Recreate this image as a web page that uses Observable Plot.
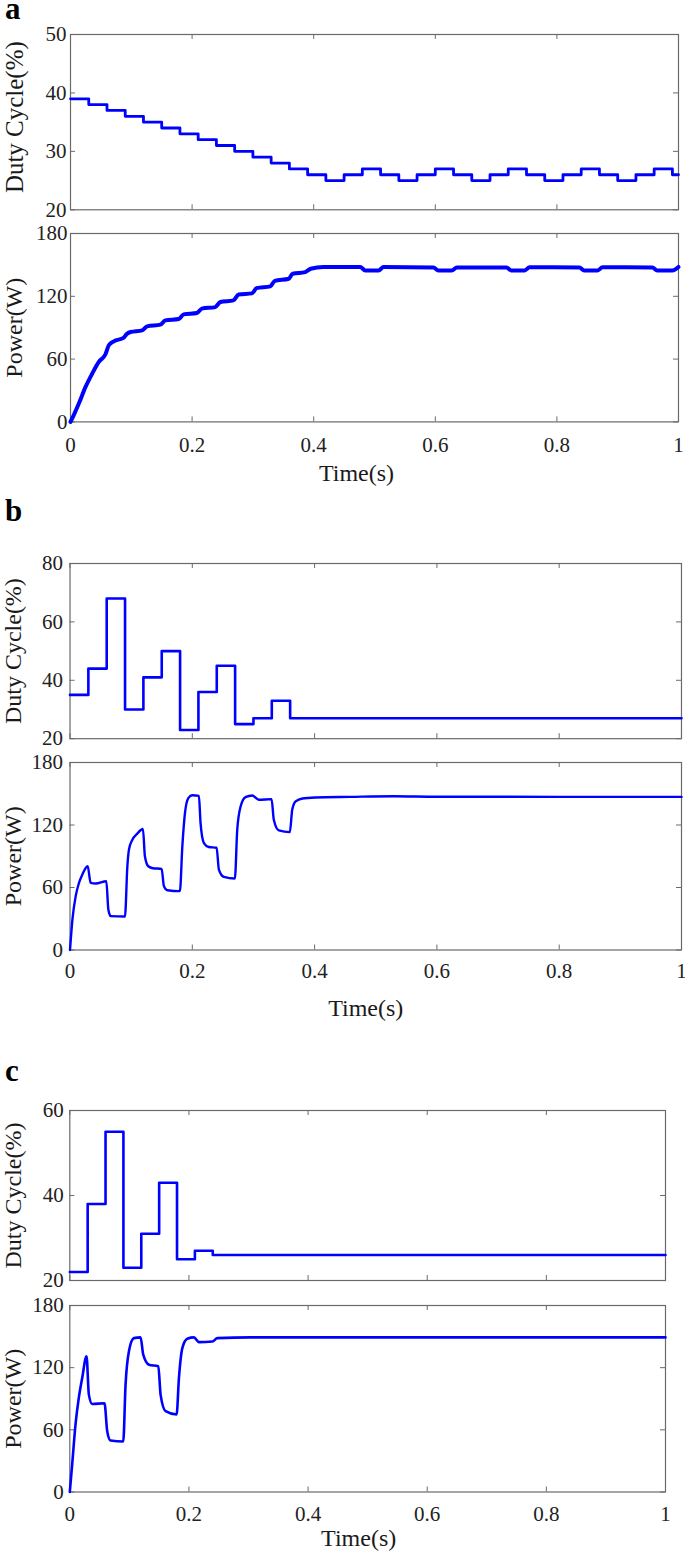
<!DOCTYPE html>
<html><head><meta charset="utf-8">
<script src="https://cdn.jsdelivr.net/npm/d3@7"></script>
<script src="https://cdn.jsdelivr.net/npm/@observablehq/plot@0.6"></script>
<style>
html,body{margin:0;padding:0;background:#fff;}
#root{position:relative;width:685px;height:1553px;overflow:hidden;background:#fff;}
#root svg{position:absolute;left:0;overflow:visible;}
</style></head><body><div id="root"></div>
<script>
// ---------- data ----------
const xTicks = [0, 0.2, 0.4, 0.6, 0.8, 1];
const powerTicks = [0, 60, 120, 180];

// Panel a: duty cycle steps (start times, values)
const dutyA_t = [0,0.03,0.06,0.09,0.12,0.15,0.18,0.21,0.24,0.27,0.30,0.33,0.36,0.39,0.42,0.45,0.48,0.51,0.54,0.57,0.60,0.63,0.66,0.69,0.72,0.75,0.78,0.81,0.84,0.87,0.90,0.93,0.96,0.99,1.0];
const dutyA_v = [39,38,37,36,35,34,33,32,31,30,29,28,27,26,25,26,27,26,25,26,27,26,25,26,27,26,25,26,27,26,25,26,27,26,26];
const dutyA_ticks = [20, 30, 40, 50];

// Panel a: power
const powerA_t = [0,0.005,0.0137,0.0247,0.0356,0.0466,0.0575,0.063,0.0712,0.0877,0.0925,0.0986,0.1178,0.126,0.148,0.156,0.178,0.186,0.208,0.216,0.238,0.2465,0.268,0.2766,0.2986,0.306,0.3287,0.336,0.3588,0.3655,0.386,0.395,0.416,0.4766,0.4848,0.5067,0.515,0.597,0.605,0.627,0.6355,0.717,0.725,0.747,0.755,0.837,0.845,0.867,0.875,0.957,0.965,0.99,1.0];
const powerA_v = [0,6,17.5,33.4,46,57.3,64.6,73.2,77,80.5,84,85.9,87.5,91.3,92.9,97,98.3,102.7,104,108.2,109.7,114.5,116.1,121.8,122.8,127.8,129.5,134.8,136.8,141.6,143.1,146.3,147.9,147.9,144.7,144.7,147.9,147.4,144.7,144.7,147.6,147.6,144.7,144.7,147.7,147.6,144.7,144.7,147.7,147.6,144.7,144.7,148];

// Panel b: duty cycle steps
const dutyB_t = [0,0.03,0.06,0.09,0.12,0.15,0.18,0.21,0.24,0.27,0.30,0.33,0.36,1.0];
const dutyB_v = [35,44,68,30,41,50,23,36,45,25,27,33,27,27];
const dutyB_ticks = [20, 40, 60, 80];

// Panel b: power
const powerB_t = [0,0.004,0.0093,0.0147,0.0202,0.0289,0.0338,0.042,0.0594,0.0627,0.0665,0.0899,0.0938,0.0964,0.102,0.110,0.1193,0.1225,0.128,0.1356,0.1498,0.1536,0.159,0.1797,0.1837,0.188,0.1935,0.2,0.2108,0.2135,0.219,0.227,0.2397,0.2435,0.2516,0.2696,0.2735,0.279,0.287,0.298,0.3088,0.3296,0.3333,0.3415,0.3595,0.3634,0.369,0.38,0.401,0.458,0.53,0.6,1.0];
const powerB_v = [0,29.4,51.7,64.4,72.4,80.4,64.4,63.8,66,38.9,32.5,32.2,80.4,96.4,105.9,111.7,116.1,90,80.4,78.5,77.9,61.3,57.4,56.5,99.5,131.4,145.8,148.6,148,121.8,102.7,98.9,98.2,77.2,70.2,68.6,115.5,137.8,146.7,148.3,144.2,144.8,125,114.8,113.2,134.6,142.6,145.5,146.4,147,147.6,147.1,147];

// Panel c: duty cycle steps
const dutyC_t = [0,0.03,0.06,0.09,0.12,0.15,0.18,0.21,0.24,1.0];
const dutyC_v = [22,38,55,23,31,43,25,27,26,26];
const dutyC_ticks = [20, 40, 60];

// Panel c: power
const powerC_t = [0,0.004,0.0096,0.0151,0.0208,0.0281,0.032,0.0376,0.0583,0.0628,0.0684,0.0897,0.0936,0.0992,0.1076,0.1188,0.1233,0.1328,0.1486,0.1524,0.1608,0.1793,0.1832,0.1889,0.1973,0.2084,0.2168,0.2393,0.2477,0.3037,1.0];
const powerC_v = [0,26.6,65.2,90.8,110,130.9,94,85,85.6,58.7,49.7,48.8,103.6,135.7,148.5,149.2,132.5,122.9,121.3,94,78,74.8,110,138.9,147.9,149.2,144.7,145.2,148.5,149.2,149.2];

const panelLetters = ["a", "b", "c"];
const dutyLabel = "Duty Cycle(%)";
const powerLabel = "Power(W)";
const timeLabel = "Time(s)";

// ---------- drawing ----------
const root = document.getElementById("root");
const FONT = "'Liberation Serif', 'Times New Roman', serif";
const W = 685;

function zip(t, v) { return t.map((d, i) => ({t: d, v: v[i]})); }

function makePlot(cfg) {
  const mt = 14, mb = cfg.xLabels ? 72 : 16;
  const frameH = cfg.bottom - cfg.top;
  const frameW = cfg.right - cfg.left;
  const H = frameH + mt + mb;
  const [y0, y1] = cfg.yDomain;
  const tl = 5; // inward tick length in px
  const tx = tl / frameW, ty = tl / frameH * (y1 - y0);
  const data = zip(cfg.t, cfg.v);
  const marks = [
    Plot.ruleY(cfg.yTicks, {y: d => d, x1: 0, x2: tx, stroke: "#6a6a6a", strokeWidth: 1}),
    Plot.ruleY(cfg.yTicks, {y: d => d, x1: 1 - tx, x2: 1, stroke: "#6a6a6a", strokeWidth: 1}),
    Plot.ruleX(xTicks, {x: d => d, y1: y0, y2: y0 + ty, stroke: "#6a6a6a", strokeWidth: 1}),
    Plot.ruleX(xTicks, {x: d => d, y1: y1 - ty, y2: y1, stroke: "#6a6a6a", strokeWidth: 1}),
    Plot.frame({stroke: "#6a6a6a", strokeWidth: 1.2}),
    Plot.line(data, {x: "t", y: "v", stroke: "#0000ff", strokeWidth: cfg.lw, curve: cfg.curve}),
    Plot.text([cfg.yLabel], {text: d => d, frameAnchor: "left", textAnchor: "middle", lineAnchor: "middle",
      rotate: -90, dx: cfg.labelX - cfg.left, dy: cfg.labelDy || 0, fontSize: cfg.labelSize, fill: "#1a1a1a"})
  ];
  if (cfg.xLabels) {
    marks.push(Plot.text([timeLabel], {text: d => d, frameAnchor: "bottom", textAnchor: "middle", lineAnchor: "middle",
      dx: cfg.timeDx, dy: cfg.timeDy, fontSize: 24, fill: "#1a1a1a"}));
  }
  const svg = Plot.plot({
    width: W, height: H,
    marginLeft: cfg.left, marginRight: W - cfg.right, marginTop: mt, marginBottom: mb,
    style: {fontFamily: FONT, fontSize: "21px", color: "#222", background: "transparent", overflow: "visible"},
    x: cfg.xLabels
      ? {domain: [0, 1], ticks: xTicks, tickFormat: d => String(d), tickSize: 0, tickPadding: cfg.xPad, label: null}
      : {domain: [0, 1], axis: null},
    y: {domain: cfg.yDomain, ticks: cfg.yTicks, tickFormat: d => String(d), tickSize: 0, tickPadding: cfg.yPad, label: null},
    marks
  });
  svg.style.position = "absolute";
  svg.style.left = "0px";
  svg.style.top = (cfg.top - mt) + "px";
  root.appendChild(svg);
}

// Panel a
makePlot({top: 34, bottom: 209.3, left: 70, right: 678, yDomain: [20, 50], yTicks: dutyA_ticks,
  t: dutyA_t, v: dutyA_v, curve: "step-after", lw: 2.8, yLabel: dutyLabel, labelX: 14, labelDy: -5, labelSize: 25, yPad: 4});
makePlot({top: 233.3, bottom: 421.7, left: 70, right: 678, yDomain: [0, 180], yTicks: powerTicks,
  t: powerA_t, v: powerA_v, curve: "monotone-x", lw: 4, yLabel: powerLabel, labelX: 14, labelSize: 24, yPad: 3,
  xLabels: true, xPad: 15, timeDx: -18, timeDy: 51});

// Panel b
makePlot({top: 563.3, bottom: 738.5, left: 69.5, right: 681, yDomain: [20, 80], yTicks: dutyB_ticks,
  t: dutyB_t, v: dutyB_v, curve: "step-after", lw: 2.6, yLabel: dutyLabel, labelX: 13, labelSize: 24, yPad: 7});
makePlot({top: 761.5, bottom: 949, left: 69.5, right: 681, yDomain: [0, 180], yTicks: powerTicks,
  t: powerB_t, v: powerB_v, curve: "monotone-x", lw: 2.4, yLabel: powerLabel, labelX: 13, labelSize: 24, yPad: 7,
  xLabels: true, xPad: 13.5, timeDx: -10, timeDy: 58});

// Panel c
makePlot({top: 1110, bottom: 1280, left: 69.3, right: 665, yDomain: [20, 60], yTicks: dutyC_ticks,
  t: dutyC_t, v: dutyC_v, curve: "step-after", lw: 2.6, yLabel: dutyLabel, labelX: 13, labelSize: 24, yPad: 6});
makePlot({top: 1304.5, bottom: 1491, left: 69.3, right: 665, yDomain: [0, 180], yTicks: powerTicks,
  t: powerC_t, v: powerC_v, curve: "monotone-x", lw: 2.6, yLabel: powerLabel, labelX: 13, labelSize: 24, yPad: 6,
  xLabels: true, xPad: 14, timeDx: -9, timeDy: 46});

// Panel letters
const overlay = d3.create("svg").attr("width", W).attr("height", 1553)
  .style("position", "absolute").style("left", "0px").style("top", "0px");
const letterBaselines = [19, 521, 1081];
overlay.selectAll("text").data(panelLetters).join("text")
  .attr("x", 5).attr("y", (d, i) => letterBaselines[i])
  .attr("font-family", FONT).attr("font-weight", "bold").attr("font-size", 31).attr("fill", "#000")
  .text(d => d);
root.appendChild(overlay.node());
</script></body></html>
